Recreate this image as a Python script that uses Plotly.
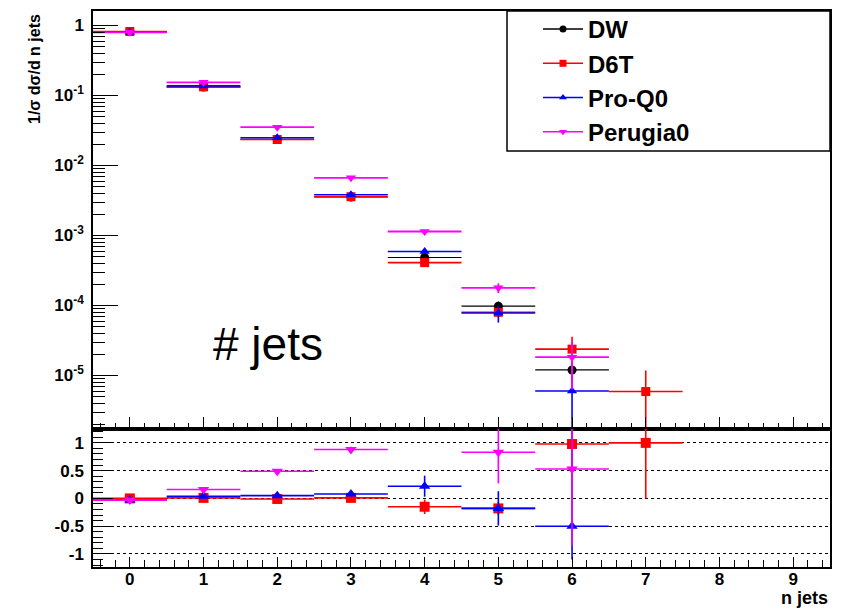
import plotly.graph_objects as go
from plotly.subplots import make_subplots

# ---------------- data ----------------
n_jets = [0, 1, 2, 3, 4, 5, 6, 7]

# normalised distributions 1/sigma dsigma/dn
dw_val = [0.82, 0.132, 0.0237, 0.00355, 4.85e-4, 9.8e-5, 1.2e-5, None]
dw_err = [0.004, 0.0015, 0.0004, 0.0001, 2.5e-5, 1.6e-5, 4e-6, None]
d6t_val = [0.82, 0.133, 0.0235, 0.00358, 4.1e-4, 8.0e-5, 2.38e-5, 5.9e-6]
d6t_err = [0.004, 0.0015, 0.0004, 0.0001, 2.2e-5, 1.2e-5, 1.2e-5, 5.9e-6]
proq0_val = [0.80, 0.137, 0.0249, 0.00383, 5.9e-4, 7.8e-5, 6.0e-6, None]
proq0_err = [0.004, 0.0015, 0.0004, 0.0001, 3e-5, 2.1e-5, 6.0e-6, None]
perugia_val = [0.80, 0.154, 0.0353, 0.00667, 1.14e-3, 1.79e-4, 1.83e-5, None]
perugia_err = [0.004, 0.0016, 0.0005, 0.00012, 4e-5, 2.8e-5, 1.2e-5, None]

# relative difference to DW
d6t_rel = [0.0, 0.01, -0.01, 0.01, -0.15, -0.18, 0.98, 1.0]
d6t_rel_err = [0.01, 0.02, 0.03, 0.04, 0.13, 0.12, 0.4, 1.0]
proq0_rel = [-0.03, 0.04, 0.05, 0.08, 0.22, -0.18, -0.5, None]
proq0_rel_up = [0.01, 0.02, 0.03, 0.04, 0.19, 0.31, 1.9, None]
proq0_rel_dn = [0.01, 0.02, 0.03, 0.04, 0.19, 0.31, 0.6, None]
perugia_rel = [-0.03, 0.16, 0.49, 0.88, 1.35, 0.83, 0.53, None]
perugia_rel_up = [0.01, 0.02, 0.03, 0.05, 0.08, 0.56, 1.4, None]
perugia_rel_dn = [0.01, 0.02, 0.03, 0.05, 0.08, 0.56, 1.38, None]

log_tick_vals = [1e-5, 1e-4, 1e-3, 1e-2, 1e-1, 1]
log_tick_text = ["10<sup>-5</sup>", "10<sup>-4</sup>", "10<sup>-3</sup>",
                 "10<sup>-2</sup>", "10<sup>-1</sup>", "1"]
rel_tick_vals = [-1, -0.5, 0, 0.5, 1]
rel_tick_text = ["-1", "-0.5", "0", "0.5", "1"]
x_tick_vals = [0, 1, 2, 3, 4, 5, 6, 7, 8, 9]

# ---------------- layout helpers ----------------
W, H = 846, 613
L, R, T, B = 93, 16, 11, 46
PW, PH = W - L - R, H - T - B


def px(x):
    return (x - L) / PW


def py(y):
    return (H - B - y) / PH


FONT = "Liberation Sans, Arial, Helvetica, sans-serif"

fig = make_subplots(rows=2, cols=1, shared_xaxes=True, vertical_spacing=0,
                    row_heights=[418, 138])

top_series = [
    ("DW", "black", "circle", dw_val, dw_err, 1.2),
    ("D6T", "red", "square", d6t_val, d6t_err, 1.6),
    ("Pro-Q0", "blue", "triangle-up", proq0_val, proq0_err, 1.6),
    ("Perugia0", "magenta", "triangle-down", perugia_val, perugia_err, 1.8),
]
for name, col, sym, vals, errs, lw in top_series:
    fig.add_trace(go.Scatter(
        x=n_jets, y=vals, mode="markers", name=name, showlegend=False,
        marker=dict(symbol=sym, size=9, color=col, line=dict(width=0)),
        error_x=dict(type="constant", value=0.5, width=0, thickness=lw, color=col),
        error_y=dict(type="data", array=errs, width=0, thickness=lw, color=col),
    ), row=1, col=1)

rel_series = [
    ("D6T", "red", "square", d6t_rel, d6t_rel_err, d6t_rel_err),
    ("Pro-Q0", "blue", "triangle-up", proq0_rel, proq0_rel_up, proq0_rel_dn),
    ("Perugia0", "magenta", "triangle-down", perugia_rel, perugia_rel_up, perugia_rel_dn),
]
for name, col, sym, vals, up, dn in rel_series:
    fig.add_trace(go.Scatter(
        x=n_jets, y=vals, mode="markers", name=name, showlegend=False,
        marker=dict(symbol=sym, size=10, color=col, line=dict(width=0)),
        error_x=dict(type="constant", value=0.5, width=0, thickness=1.6, color=col),
        error_y=dict(type="data", array=up, arrayminus=dn, symmetric=False,
                     width=0, thickness=1.6, color=col),
    ), row=2, col=1)

# legend entries (line + marker)
for name, col, sym, vals, errs, lw in top_series:
    fig.add_trace(go.Scatter(
        x=[None], y=[None], mode="lines+markers", name=name,
        line=dict(color=col, width=1.5),
        marker=dict(symbol=sym, size=7, color=col),
        legendgroup=name,
    ), row=1, col=1)

axis_common = dict(showline=True, mirror=True, linecolor="black", linewidth=1.5,
                   zeroline=False, tickcolor="black", tickwidth=1,
                   tickfont=dict(family=FONT, size=17, color="black", weight="bold"))

minor_log = [m * 10.0 ** e for e in range(-6, 1) for m in range(2, 10)]

fig.update_yaxes(row=1, col=1, type="log", range=[-5.764, 0.207],
                 tickmode="array", tickvals=log_tick_vals, ticktext=log_tick_text,
                 ticks="inside", ticklen=25, showgrid=False,
                 ticklabelstandoff=4,
                 minor=dict(tickmode="array", tickvals=minor_log, ticks="inside",
                            ticklen=12, tickcolor="black", tickwidth=1),
                 **axis_common)
fig.update_yaxes(row=2, col=1, range=[-1.235, 1.25],
                 tickmode="array", tickvals=rel_tick_vals, ticktext=rel_tick_text,
                 ticks="inside", ticklen=20,
                 showgrid=True, gridcolor="black", griddash="dot", gridwidth=1,
                 ticklabelstandoff=4,
                 minor=dict(tickmode="linear", tick0=0, dtick=0.1, ticks="inside",
                            ticklen=10, tickcolor="black", tickwidth=1),
                 **axis_common)
fig.update_xaxes(row=1, col=1, range=[-0.5, 9.5], tickmode="array",
                 tickvals=x_tick_vals, ticks="inside", ticklen=12,
                 showticklabels=False, showgrid=False,
                 minor=dict(tickmode="linear", tick0=0, dtick=0.2, ticks="inside",
                            ticklen=6, tickcolor="black", tickwidth=1),
                 **axis_common)
fig.update_xaxes(row=2, col=1, range=[-0.5, 9.5], tickmode="array",
                 tickvals=x_tick_vals, ticks="inside", ticklen=10,
                 showgrid=False, ticklabelstandoff=-4,
                 minor=dict(tickmode="linear", tick0=0, dtick=0.2, ticks="inside",
                            ticklen=7, tickcolor="black", tickwidth=1),
                 **axis_common)

fig.update_layout(
    width=W, height=H,
    margin=dict(l=L, r=R, t=T, b=B, pad=0, autoexpand=False),
    paper_bgcolor="white", plot_bgcolor="white",
    font=dict(family=FONT, color="black"),
    showlegend=True,
    legend=dict(x=px(538), y=py(7), xanchor="left", yanchor="top",
                bgcolor="rgba(0,0,0,0)", borderwidth=0,
                font=dict(family=FONT, size=24, color="black", weight="bold"),
                tracegroupgap=0, itemwidth=40),
    shapes=[dict(type="rect", xref="paper", yref="paper",
                 x0=px(507), x1=1.0, y0=py(151), y1=1.0,
                 line=dict(color="black", width=1.5), fillcolor="rgba(0,0,0,0)",
                 layer="above")],
    annotations=[
        dict(text="<b>1/σ dσ/d n jets</b>", xref="paper", yref="paper",
             x=px(34), y=py(12), xanchor="center", yanchor="top",
             textangle=-90, showarrow=False,
             font=dict(family=FONT, size=16, color="black")),
        dict(text="<b>n jets</b>", xref="paper", yref="paper",
             x=1.0, y=py(598), xanchor="right", yanchor="middle",
             showarrow=False, font=dict(family=FONT, size=18, color="black")),
        dict(text="# jets", xref="paper", yref="paper",
             x=px(268), y=py(344), xanchor="center", yanchor="middle",
             showarrow=False, font=dict(family=FONT, size=46, color="black")),
    ],
)

fig.write_html("out.html")
